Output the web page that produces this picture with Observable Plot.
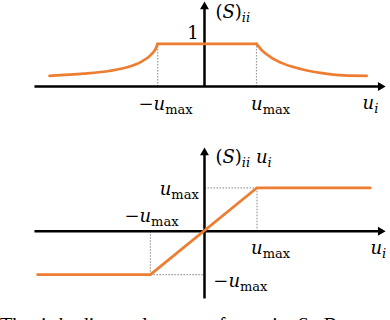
<!DOCTYPE html>
<html><head><meta charset="utf-8">
<script src="https://cdn.jsdelivr.net/npm/d3@7"></script>
<script src="https://cdn.jsdelivr.net/npm/@observablehq/plot@0.6"></script>
<style>
html,body{margin:0;padding:0;background:#fff;overflow:hidden;width:390px;height:320px}
#chart{position:relative;width:390px;height:320px}
#chart svg{display:block}
#caption{position:absolute;left:0;top:315px;font-family:"Liberation Serif",serif;font-size:20px;line-height:20px;white-space:nowrap;word-spacing:5px;color:#000}
</style></head><body><div id="chart"></div>
<script>
// ---------- data (u in units of u_max) ----------
// top panel: (S)_ii as a function of u_i
const topU = [-2.98,-2.32,-1.81,-1.49,-1.23,-1.04,-0.94,-0.90, -0.90,1.00, 1.00,1.11,1.27,1.53,1.85,2.23,2.68,3.12];
const topS = [0.25,0.30,0.37,0.45,0.57,0.73,0.88,1.00, 1.00,1.00, 1.00,0.84,0.69,0.53,0.41,0.32,0.26,0.25];
const topSeg = ["l","l","l","l","l","l","l","l","f","f","r","r","r","r","r","r","r","r"];
const topUmax = [-0.90, 1.00];
// bottom panel: (S)_ii u_i
const botU = [-3.21,-1.04,1.01,3.19];
const botV = [-1,-1,1,1];
const botUmax = [-1.04, 1.01];
// axes extents
const topAxisU = [-3.27, 3.385];
const topAxisS = [0, 1.87];
const botAxisU = [-3.27, 3.385];
const botAxisV = [-1.55, 1.81];
// labels
const topLabText = ["(S)_ii","1","−u_max","u_max","u_i"];
const topLabU = [0.21,-0.11,-0.75,1.27,3.04];
const topLabS = [1.73,1.24,-0.42,-0.42,-0.40];
const topLabAnchor = ["start","end","middle","middle","start"];
const botLabText = ["(S)_ii u_i","u_max","−u_max","u_max","−u_max","u_i"];
const botLabU = [0.21,-0.11,-1.02,1.27,0.17,3.19];
const botLabV = [1.70,0.96,0.34,-0.40,-1.16,-0.40];
const botLabAnchor = ["start","end","middle","middle","start","start"];
const captionText = "The i-th diagonal entry of matrix S. Bottom";

// ---------- styling ----------
const ORANGE = "#ED7D31";
const MATH_FONT = "DejaVu Serif";
const xDomain = [-3.923, 3.577];

const topCurve = topU.map((u,i)=>({u, s: topS[i], seg: topSeg[i]}));
const botLine = botU.map((u,i)=>({u, v: botV[i]}));

function labelMarks(texts, us, vs, anchors) {
  const rows = texts.map((t,i)=>({t, x: us[i], y: vs[i], a: anchors[i]}));
  return ["start","middle","end"].map(a => Plot.text(rows.filter(r=>r.a===a), {
    x:"x", y:"y", text:"t", textAnchor:a, lineAnchor:"middle",
    fontFamily: MATH_FONT, fontSize: 18, fill:"black"
  }));
}

function mathify(svg) {
  svg.querySelectorAll("text").forEach(t => {
    const s = t.textContent;
    if (!s) return;
    while (t.firstChild) t.removeChild(t.firstChild);
    t.setAttribute("style", (t.getAttribute("style")||"") + ";white-space:pre");
    const re = /_(\w+)|([A-Za-z])|([^_A-Za-z]+)/g;
    let m, shift = 0;
    const NS = "http://www.w3.org/2000/svg";
    while ((m = re.exec(s))) {
      const ts = document.createElementNS(NS, "tspan");
      if (m[1]) {
        ts.textContent = m[1];
        ts.setAttribute("font-size", 13);
        if (m[1] !== "max") ts.setAttribute("font-style","italic");
        ts.setAttribute("dy", 4 - shift); shift = 4;
      } else {
        ts.textContent = m[2] || m[3];
        if (m[2]) ts.setAttribute("font-style","italic");
        if (shift) { ts.setAttribute("dy", -shift); shift = 0; }
      }
      t.appendChild(ts);
    }
  });
  return svg;
}

const topPlot = Plot.plot({
  width: 390, height: 130, margin: 0,
  x: {domain: xDomain, axis: null},
  y: {domain: [-1.030, 2.014], axis: null},
  marks: [
    Plot.link(topUmax, {x1: d=>d, x2: d=>d, y1: ()=>0, y2: ()=>1, stroke:"#999", strokeWidth:1.2, strokeDasharray:"1.5,1.5"}),
    Plot.link([0], {x1: ()=>topAxisU[0], x2: ()=>topAxisU[1], y1: ()=>0, y2: ()=>0, stroke:"black", strokeWidth:2.5}),
    Plot.link([0], {x1: ()=>0, x2: ()=>0, y1: ()=>topAxisS[0], y2: ()=>topAxisS[1], stroke:"black", strokeWidth:2.5}),
    Plot.dot([0], {x: ()=>topAxisU[1], y: ()=>0, symbol:"triangle", r:3.3, fill:"black", stroke:null, rotate:90}),
    Plot.dot([0], {x: ()=>0, y: ()=>topAxisS[1], symbol:"triangle", r:3.3, fill:"black", stroke:null}),
    Plot.line(topCurve, {x:"u", y:"s", z:"seg", curve:"monotone-x", stroke:ORANGE, strokeWidth:2.7}),
    ...labelMarks(topLabText, topLabU, topLabS, topLabAnchor)
  ]
});

const botPlot = Plot.plot({
  width: 390, height: 175, margin: 0,
  x: {domain: xDomain, axis: null},
  y: {domain: [-1.712, 2.320], axis: null},
  marks: [
    Plot.link(botUmax, {x1: d=>d, x2: d=>d, y1: ()=>0, y2: d=> d<0 ? -1 : 1, stroke:"#999", strokeWidth:1.2, strokeDasharray:"1.5,1.5"}),
    Plot.link(botUmax, {x1: d=>d, x2: ()=>0, y1: d=> d<0 ? -1 : 1, y2: d=> d<0 ? -1 : 1, stroke:"#999", strokeWidth:1.2, strokeDasharray:"1.5,1.5"}),
    Plot.link([0], {x1: ()=>botAxisU[0], x2: ()=>botAxisU[1], y1: ()=>0, y2: ()=>0, stroke:"black", strokeWidth:2.5}),
    Plot.link([0], {x1: ()=>0, x2: ()=>0, y1: ()=>botAxisV[0], y2: ()=>botAxisV[1], stroke:"black", strokeWidth:2.5}),
    Plot.dot([0], {x: ()=>botAxisU[1], y: ()=>0, symbol:"triangle", r:3.3, fill:"black", stroke:null, rotate:90}),
    Plot.dot([0], {x: ()=>0, y: ()=>botAxisV[1], symbol:"triangle", r:3.3, fill:"black", stroke:null}),
    Plot.line(botLine, {x:"u", y:"v", stroke:ORANGE, strokeWidth:2.7}),
    ...labelMarks(botLabText, botLabU, botLabV, botLabAnchor)
  ]
});

const chart = document.getElementById("chart");
chart.appendChild(mathify(topPlot));
chart.appendChild(mathify(botPlot));
const cap = document.createElement("div");
cap.id = "caption";
cap.textContent = captionText;
chart.appendChild(cap);
</script>
</body></html>
